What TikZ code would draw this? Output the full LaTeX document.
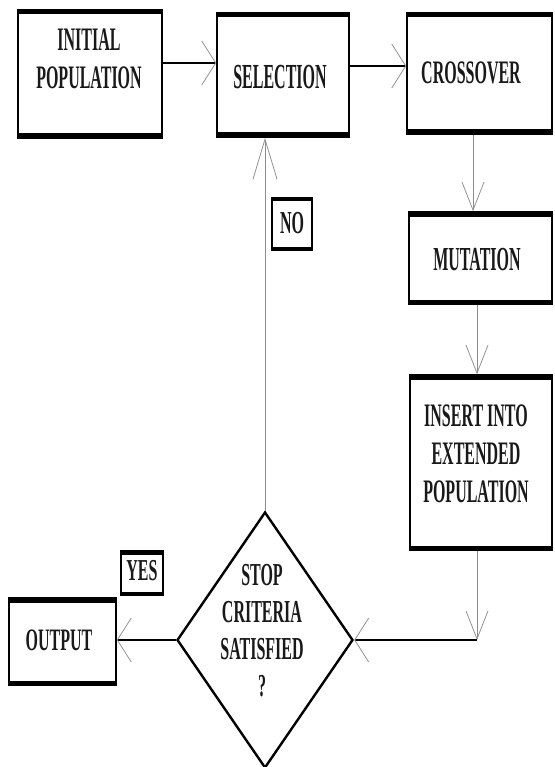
\documentclass[tikz,border=0pt]{standalone}
\usepackage{fontspec}
\setmainfont{Liberation Serif}
\usepackage{graphicx}
\usetikzlibrary{arrows.meta,shapes.geometric}
\newcommand\flowtxt[2][2.05]{\scalebox{1}[#1]{\fontsize{16}{18.5}\selectfont\bfseries\begin{tabular}{@{}c@{}}#2\end{tabular}}}
\tikzset{
  box/.style={draw=black, line width=1.6pt, inner sep=0pt,
    path picture={\draw[line width=9pt] (path picture bounding box.north west) -- (path picture bounding box.north east)
      (path picture bounding box.south west) -- (path picture bounding box.south east);}},
  smallbox/.style={draw=black, line width=1.6pt, inner sep=0pt,
    path picture={\draw[line width=7pt] (path picture bounding box.north west) -- (path picture bounding box.north east)
      (path picture bounding box.south west) -- (path picture bounding box.south east);}},
  lbl/.style={inner sep=0pt, text=black!90},
  harrow/.style={-{Straight Barb[length=14pt,width=44pt,line width=0.8pt,color=gray!85]}, line width=1.1pt, draw=black},
  varrow/.style={-{Straight Barb[length=28pt,width=22pt,line width=0.8pt,color=gray!85]}, line width=0.9pt, draw=gray!90},
  varrowlong/.style={-{Straight Barb[length=40pt,width=24pt,line width=0.8pt,color=gray!85]}, line width=0.9pt, draw=gray!90},
  dia/.style={draw=black, line width=2.4pt, shape=diamond, inner sep=0pt, minimum width=176pt, minimum height=256pt},
}
\begin{document}
\begin{tikzpicture}[x=1pt,y=-1pt]
\useasboundingbox[fill=white] (0,0) rectangle (554,767);
% boxes
\node[box, minimum width=144pt, minimum height=128pt] (init) at (90,74) {};
\node[lbl] (initt) at (89,62) {\flowtxt{INITIAL\\POPULATION}};
\node[box, minimum width=132pt, minimum height=124pt] (sel) at (283,75) {};
\node[lbl] (selt) at (280,80) {\flowtxt[2.2]{SELECTION}};
\node[box, minimum width=145pt, minimum height=121pt] (cross) at (479.5,73.5) {};
\node[lbl] (crosst) at (471,76) {\flowtxt{CROSSOVER}};
\node[box, minimum width=143pt, minimum height=92pt] (mut) at (480.5,258) {};
\node[lbl] (mutt) at (477,263) {\flowtxt[2.1]{MUTATION}};
\node[box, minimum width=142pt, minimum height=175pt] (ins) at (481,462.5) {};
\node[lbl] (inst) at (476,457) {\flowtxt{INSERT INTO\\EXTENDED\\POPULATION}};
\node[box, minimum width=107pt, minimum height=87pt] (out) at (62.5,641.5) {};
\node[lbl] (outt) at (59,643) {\flowtxt[1.95]{OUTPUT}};
\node[dia] (dia) at (265,640) {};
\node[lbl] (diat) at (262,634) {\flowtxt[2.0]{STOP\\CRITERIA\\SATISFIED\\?}};
\node[smallbox, minimum width=40pt, minimum height=52pt] (no) at (292,224) {};
\node[lbl] (not) at (292,226) {\flowtxt[2.0]{NO}};
\node[smallbox, minimum width=42pt, minimum height=44pt] (yes) at (142,573) {};
\node[lbl] (yest) at (142,573) {\flowtxt[1.9]{YES}};
\coordinate (corner) at (477,640);
% connectors
\draw[harrow] ([yshift=12pt]sel.west -| init.east) -- ([yshift=12pt]sel.west);
\draw[harrow] ([yshift=7.5pt]cross.west -| sel.east) -- ([yshift=7.5pt]cross.west);
\draw[varrow] ([xshift=-7.5pt]mut.north |- cross.south) -- ([xshift=-7.5pt]mut.north);
\draw[varrow] ([xshift=-4pt]ins.north |- mut.south) -- ([xshift=-4pt]ins.north);
\draw[varrow] (ins.south -| corner) -- (corner);
\draw[harrow] (corner) -- (dia.east);
\draw[harrow] (dia.west) -- (dia.west -| out.east);
\draw[varrowlong] (dia.north) -- (dia.north |- sel.south);
\end{tikzpicture}
\end{document}
